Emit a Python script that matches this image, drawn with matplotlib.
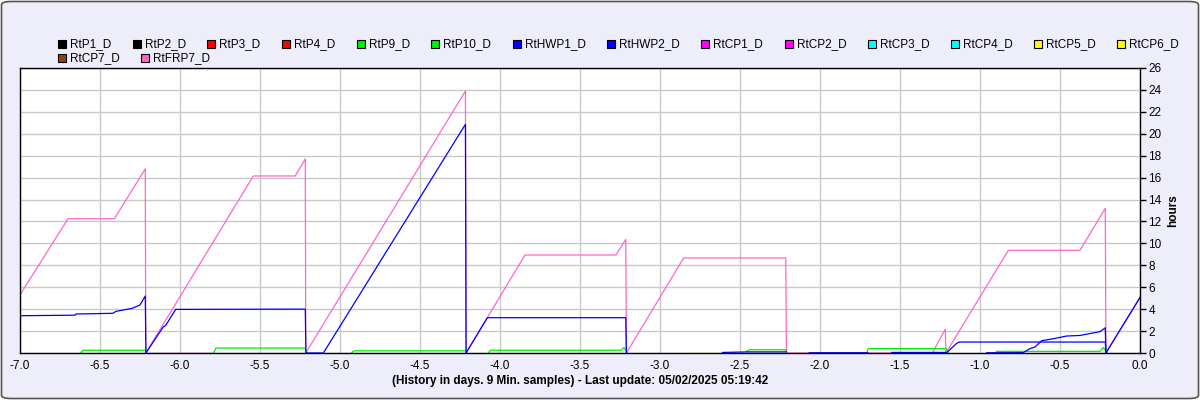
import numpy as np
import matplotlib.pyplot as plt
from matplotlib.patches import FancyBboxPatch, Rectangle

plt.rcParams['font.family'] = ['Liberation Sans', 'DejaVu Sans']

W, H = 1200, 400
nan = np.nan

names = ["RtP1_D", "RtP2_D", "RtP3_D", "RtP4_D", "RtP9_D", "RtP10_D", "RtHWP1_D", "RtHWP2_D",
         "RtCP1_D", "RtCP2_D", "RtCP3_D", "RtCP4_D", "RtCP5_D", "RtCP6_D", "RtCP7_D", "RtFRP7_D"]
colors = ["#000000", "#000000", "#FF0000", "#FF0000", "#00EE00", "#00EE00", "#0000FF", "#0000FF",
          "#FF00FF", "#FF00FF", "#00FFFF", "#00FFFF", "#FFFF00", "#FFFF00", "#8B4513", "#FF66CC"]

# hours, x = days back from now
frp7_x = [-7.0, -6.70, -6.41, -6.217, -6.214, -5.542, -5.28, -5.217, -5.214, -4.216, -4.212,
          -3.844, -3.275, -3.214, -3.21, -2.852, -2.214, -2.21, -1.298, -1.217, -1.213,
          -0.823, -0.375, -0.217, -0.213, 0.0]
frp7_y = [5.3, 12.25, 12.25, 16.8, 0, 16.15, 16.15, 17.7, 0, 23.9, 0,
          8.94, 8.94, 10.37, 0, 8.67, 8.67, 0, 0, 2.16, 0,
          9.37, 9.37, 13.2, 0, 5.0]

hwp1_x = [-7.0, -6.656, -6.65, -6.42, -6.40, -6.30, -6.25, -6.217, -6.213, -6.104, -6.09, -6.027,
          -5.217, -5.213, -5.104, -4.216, -4.212, -4.079, -3.214, -3.21, nan,
          -1.21, -1.146, -1.13, -0.217, -0.213, 0.0]
hwp1_y = [3.40, 3.45, 3.56, 3.62, 3.8, 4.07, 4.38, 5.2, 0, 2.4, 2.5, 3.98,
          4.0, 0, 0, 20.86, 0, 3.22, 3.22, 0, nan,
          0, 0.88, 1.0, 1.0, 0, 5.08]

hwp2_x = [-2.61, -2.45, -2.21, nan, -2.067, -1.7, nan, -1.552, -1.21, nan,
          -0.958, -0.729, -0.688, -0.656, -0.615, -0.542, -0.458, -0.375, -0.25, -0.217, -0.213]
hwp2_y = [0.05, 0.1, 0.1, nan, 0.02, 0.02, nan, 0.05, 0.05, nan,
          0.02, 0.03, 0.4, 0.55, 1.12, 1.3, 1.55, 1.6, 1.95, 2.3, 0]

p9_x = [-6.62, -6.605, -6.217, -6.21, nan, -5.79, -5.775, -5.217, -5.21, nan,
        -4.927, -4.915, -4.216, -4.21, nan, -4.073, -4.06, -3.245, -3.225, -3.205]
p9_y = [0, 0.25, 0.25, 0, nan, 0, 0.45, 0.45, 0, nan,
        0, 0.2, 0.2, 0, nan, 0, 0.25, 0.25, 0.5, 0]

p10_x = [-2.46, -2.44, -2.214, -2.21, nan, -1.708, -1.698, -1.21, -1.2, nan,
         -0.906, -0.896, -0.25, -0.229, -0.205]
p10_y = [0.15, 0.3, 0.3, 0, nan, 0, 0.4, 0.4, 0, nan,
         0, 0.15, 0.15, 0.5, 0]

cp2_x = [-6.21, -5.8]
cp2_y = [0.03, 0.03]
cp5_x = [-2.85, -2.62]
cp5_y = [0.03, 0.03]

series = {"RtFRP7_D": (frp7_x, frp7_y), "RtP9_D": (p9_x, p9_y), "RtP10_D": (p10_x, p10_y),
          "RtCP2_D": (cp2_x, cp2_y), "RtCP5_D": (cp5_x, cp5_y),
          "RtHWP1_D": (hwp1_x, hwp1_y), "RtHWP2_D": (hwp2_x, hwp2_y)}

fig = plt.figure(figsize=(12, 4), dpi=100)
fig.patch.set_facecolor('white')
bg = FancyBboxPatch((1.5 / W, 1.5 / H), 1 - 3 / W, 1 - 3 / H,
                    boxstyle="round,pad=0,rounding_size=0.008",
                    transform=fig.transFigure, fc="#EEEEFB", ec="#555555", lw=1.2, zorder=-5)
fig.patches.append(bg)

ax = fig.add_axes([20 / W, 47 / H, 1120 / W, 285 / H])
ax.set_facecolor('white')
for n, (xs, ys) in series.items():
    c = colors[names.index(n)]
    ax.plot(xs, ys, color=c, lw=0.9, zorder=2)

ax.set_xlim(-7, 0)
ax.set_ylim(0, 26)
ax.set_xticks(np.arange(-7, 0.01, 0.5))
ax.set_xticklabels(["%.1f" % v for v in np.arange(-7, 0.01, 0.5)])
ax.set_yticks(range(0, 27, 2))
ax.yaxis.tick_right()
ax.yaxis.set_label_position('right')
ax.tick_params(axis='x', length=0, pad=5, labelsize=8.5)
ax.tick_params(axis='y', length=4, width=1, pad=2, labelsize=8.5)
ax.grid(True, color='#C8C8C8', lw=1)
ax.set_axisbelow(True)
for s in ax.spines.values():
    s.set_color('black')
    s.set_linewidth(1)
ax.set_ylabel("hours", fontweight='bold', fontsize=8.5, labelpad=4)

fig.text(580 / W, 1 - 381 / H, "(History in days. 9 Min. samples) - Last update: 05/02/2025 05:19:42",
         ha='center', va='center', fontweight='bold', fontsize=8.5)

# legend, laid out in a flow
fig.canvas.draw()
r = fig.canvas.get_renderer()
x = 58
y = 44
gap = 21.5
for i, (n, c) in enumerate(zip(names, colors)):
    if i == 14:
        x = 58
        y = 58
    fig.patches.append(Rectangle((x / W, 1 - (y + 4) / H), 8 / W, 8 / H, transform=fig.transFigure,
                                 fc=c, ec='black', lw=0.8))
    t = fig.text((x + 12) / W, 1 - y / H, n, ha='left', va='center', fontsize=8.5)
    x += 12 + t.get_window_extent(r).width + gap

fig.savefig("out.png", dpi=100)
